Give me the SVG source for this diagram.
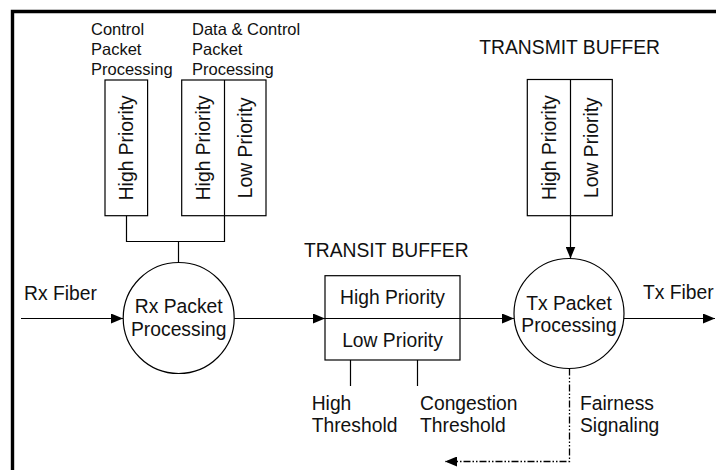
<svg xmlns="http://www.w3.org/2000/svg" width="716" height="470" viewBox="0 0 716 470">
  <defs>
    <marker id="arrow" markerUnits="userSpaceOnUse" markerWidth="12" markerHeight="10" refX="12" refY="5" orient="auto">
      <path d="M0,0 L12,5 L0,10 z" fill="#000"/>
    </marker>
    <style>
      text { font-family: "Liberation Sans", Arial, sans-serif; fill: #111; }
      .lbl { font-size: 19.3px; }
      .small { font-size: 16.5px; }
      .mid { text-anchor: middle; }
      .box { fill: #fff; stroke: #000; stroke-width: 1.2; }
      .ln { fill: none; stroke: #000; stroke-width: 1.2; }
      .dash { fill: none; stroke: #000; stroke-width: 1.3; stroke-dasharray: 7 2 1.5 2 1.5 2; }
      .frame { fill: none; stroke: #000; stroke-width: 3.4; }
    </style>
  </defs>
  <rect width="716" height="470" fill="#fff"/>
  <path class="frame" d="M12.5,470 V11.5 H716"/>

  <!-- connectors -->
  <g id="connectors">
    <path class="ln" d="M126.5,215.7 V241.5 H224.5 V215.7"/>
    <path class="ln" d="M178.5,241.5 V262.5"/>
    <path class="ln" d="M21,318.5 H123" marker-end="url(#arrow)"/>
    <path class="ln" d="M234,318.5 H325" marker-end="url(#arrow)"/>
    <path class="ln" d="M460,318.5 H514" marker-end="url(#arrow)"/>
    <path class="ln" d="M624,318.5 H715" marker-end="url(#arrow)"/>
    <path class="ln" d="M570.5,215.7 V258.5" marker-end="url(#arrow)"/>
    <path class="ln" d="M350.5,360 V386 M417.5,360 V386"/>
    <path class="dash" d="M569.5,368.5 V461.5 H445" marker-end="url(#arrow)"/>
  </g>

  <!-- control packet processing queue -->
  <g id="ctrl-queue">
    <text class="small" x="91" y="34.5">Control</text>
    <text class="small" x="91" y="54.5">Packet</text>
    <text class="small" x="91" y="74.5">Processing</text>
    <rect class="box" x="105" y="80" width="42.6" height="135.7"/>
    <text class="lbl mid" transform="translate(133.3,147.8) rotate(-90)">High Priority</text>
  </g>

  <!-- data and control packet processing queues -->
  <g id="data-queue">
    <text class="small" x="192" y="34.5">Data &amp; Control</text>
    <text class="small" x="192" y="54.5">Packet</text>
    <text class="small" x="192" y="74.5">Processing</text>
    <rect class="box" x="181.7" y="80" width="84.3" height="135.7"/>
    <path class="ln" d="M224.5,80 V215.7"/>
    <text class="lbl mid" transform="translate(210,147.8) rotate(-90)">High Priority</text>
    <text class="lbl mid" transform="translate(251.7,147.8) rotate(-90)">Low Priority</text>
  </g>

  <!-- receive side -->
  <g id="rx-fiber">
    <text class="lbl" x="24" y="300">Rx Fiber</text>
  </g>
  <g id="rx-processing">
    <circle class="box" cx="178.7" cy="318" r="55.5"/>
    <text class="lbl mid" x="178.7" y="313.3">Rx Packet</text>
    <text class="lbl mid" x="178.7" y="335.5">Processing</text>
  </g>

  <!-- transit buffer -->
  <g id="transit-buffer">
    <text class="lbl" x="304" y="256.7">TRANSIT BUFFER</text>
    <rect class="box" x="325" y="275.7" width="135" height="84.3"/>
    <path class="ln" d="M325,318.5 H460"/>
    <text class="lbl mid" x="392.5" y="303.5">High Priority</text>
    <text class="lbl mid" x="392.5" y="346.5">Low Priority</text>
  </g>
  <g id="high-threshold">
    <text class="lbl" x="311.7" y="410">High</text>
    <text class="lbl" x="311.7" y="431.7">Threshold</text>
  </g>
  <g id="congestion-threshold">
    <text class="lbl" x="420" y="410">Congestion</text>
    <text class="lbl" x="420" y="431.7">Threshold</text>
  </g>

  <!-- transmit buffer -->
  <g id="transmit-buffer">
    <text class="lbl" x="479.3" y="54">TRANSMIT BUFFER</text>
    <rect class="box" x="527.3" y="79.5" width="85" height="136.2"/>
    <path class="ln" d="M570.5,79.5 V215.7"/>
    <text class="lbl mid" transform="translate(556,147.6) rotate(-90)">High Priority</text>
    <text class="lbl mid" transform="translate(598.3,147.6) rotate(-90)">Low Priority</text>
  </g>

  <!-- transmit side -->
  <g id="tx-processing">
    <circle class="box" cx="569" cy="313.5" r="55"/>
    <text class="lbl mid" x="569" y="310">Tx Packet</text>
    <text class="lbl mid" x="569" y="332">Processing</text>
  </g>
  <g id="tx-fiber">
    <text class="lbl" x="643" y="299">Tx Fiber</text>
  </g>
  <g id="fairness">
    <text class="lbl" x="580" y="410">Fairness</text>
    <text class="lbl" x="580" y="432">Signaling</text>
  </g>
</svg>
